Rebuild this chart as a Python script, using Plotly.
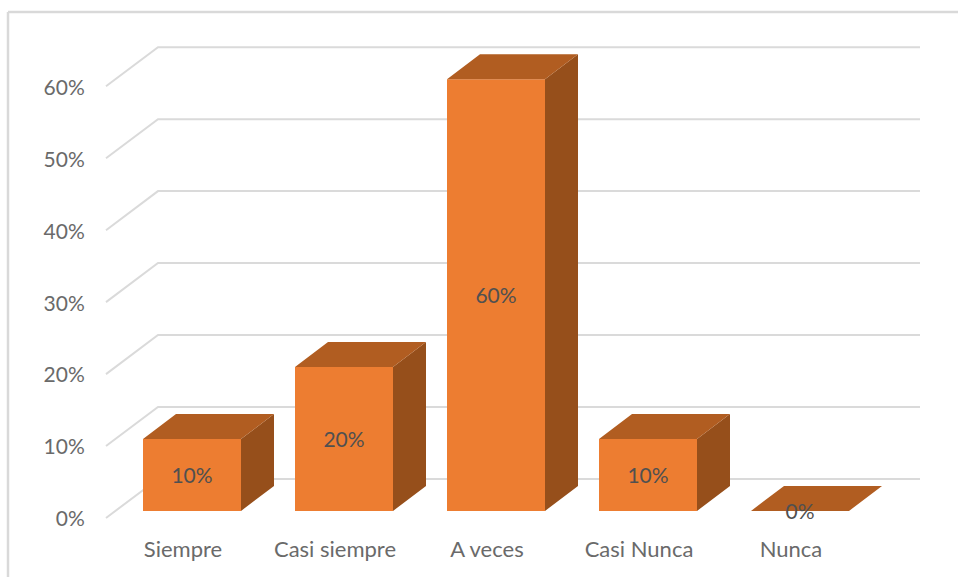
import plotly.graph_objects as go

categories = ["Siempre", "Casi siempre", "A veces", "Casi Nunca", "Nunca"]
values = [10, 20, 60, 10, 0]
value_labels = ["10%", "20%", "60%", "10%", "0%"]
axis_values = [0, 10, 20, 30, 40, 50, 60]
axis_labels = ["0%", "10%", "20%", "30%", "40%", "50%", "60%"]

W, H = 958, 577
LEFT, RIGHT, TOP, BOTTOM = 100, 930, 30, 528   # plot area in page pixels
X0_PX, X_STEP = 192, 152                       # first category centre, category step
Y0_PX, Y_STEP = 510, 7.18                      # 0 value on bar plane, px per percent
Y_FIX = 1                                      # page height correction seen in the render

def dx(px):
    return px / X_STEP

def dy(px):
    return px / Y_STEP

x_range = [(LEFT - X0_PX) / X_STEP, (RIGHT - X0_PX) / X_STEP]
y_range = [(Y0_PX - BOTTOM) / Y_STEP, (Y0_PX - TOP) / Y_STEP]

idx = list(range(len(categories)))
half = dx(49)
bar_dx, bar_dy = dx(33), dy(25)

top_x, top_y, side_x, side_y = [], [], [], []
for i, v in zip(idx, values):
    l, r = i - half, i + half
    top_x += [l, l + bar_dx, r + bar_dx, r, l, None]
    top_y += [v, v + bar_dy, v + bar_dy, v, v, None]
    if v > 0:
        side_x += [r, r + bar_dx, r + bar_dx, r, r, None]
        side_y += [v, v + bar_dy, bar_dy, 0, v, None]

fig = go.Figure()
fig.add_bar(x=idx, y=values, width=2 * half, marker=dict(color="#ED7D31", line=dict(width=0)),
            hoverinfo="skip", showlegend=False)
fig.add_scatter(x=side_x, y=side_y, mode="lines", fill="toself", fillcolor="#964F1B",
                line=dict(width=0), hoverinfo="skip", showlegend=False)
fig.add_scatter(x=top_x, y=top_y, mode="lines", fill="toself", fillcolor="#B15D21",
                line=dict(width=0), hoverinfo="skip", showlegend=False)
fig.add_scatter(x=idx, y=[v / 2 + dy(-3) for v in values], mode="text", text=value_labels,
                textposition="middle center",
                textfont=dict(family="Lato", size=21, color="#505050"),
                hoverinfo="skip", showlegend=False)

# Wall and floor gridlines: front stub rising to the back wall, then along the wall
front_x, back_x, end_x = (106 - X0_PX) / X_STEP, (158 - X0_PX) / X_STEP, (920 - X0_PX) / X_STEP
front_off, back_off = dy(-7), dy(32)
shapes = []
for v in axis_values:
    path = f"M {front_x} {v + front_off} L {back_x} {v + back_off} L {end_x} {v + back_off}"
    shapes.append(dict(type="path", path=path, xref="x", yref="y", layer="below",
                       line=dict(color="#DADADA", width=2)))
# Chart frame, top and left edges only
plot_h = BOTTOM - TOP
shapes.append(dict(type="line", xref="paper", yref="paper", layer="below",
                   x0=(8 - LEFT) / (RIGHT - LEFT), x1=(W - LEFT) / (RIGHT - LEFT),
                   y0=(BOTTOM - 12) / plot_h, y1=(BOTTOM - 12) / plot_h,
                   line=dict(color="#D9D9D9", width=2.5)))
shapes.append(dict(type="line", xref="paper", yref="paper", layer="below",
                   x0=(8 - LEFT) / (RIGHT - LEFT), x1=(8 - LEFT) / (RIGHT - LEFT),
                   y0=(BOTTOM - 12) / plot_h, y1=(BOTTOM - H) / plot_h,
                   line=dict(color="#D9D9D9", width=2.5)))

fig.update_layout(
    width=W, height=H + Y_FIX, autosize=False,
    margin=dict(l=LEFT, r=W - RIGHT, t=TOP, b=H - BOTTOM, pad=0),
    paper_bgcolor="white", plot_bgcolor="rgba(0,0,0,0)",
    showlegend=False, shapes=shapes,
    xaxis=dict(range=x_range, tickmode="array",
               tickvals=[i + dx(-9) for i in idx], ticktext=categories,
               showgrid=False, zeroline=False, showline=False, ticks="outside",
               ticklen=1, tickcolor="rgba(0,0,0,0)",
               tickfont=dict(family="Lato", size=22, color="#6A6A6A")),
    yaxis=dict(range=y_range, tickmode="array",
               tickvals=[v + front_off + dy(-1) for v in axis_values], ticktext=axis_labels,
               showgrid=False, zeroline=False, showline=False, ticks="outside",
               ticklen=10, tickcolor="rgba(0,0,0,0)",
               tickfont=dict(family="Lato", size=21, color="#6A6A6A")),
)

fig.write_html("out.html", config={"displayModeBar": False},
               post_script="document.body.style.margin='0';document.body.style.overflow='hidden';")
